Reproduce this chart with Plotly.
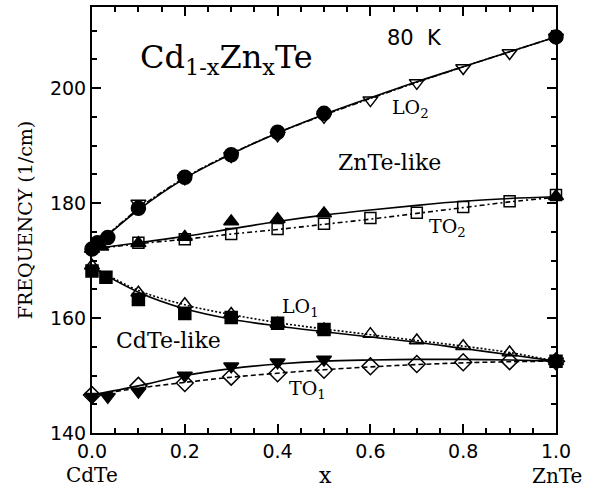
import plotly.graph_objects as go

# ---------------- data ----------------
x_fit = [0.0, 0.1, 0.2, 0.3, 0.4, 0.5, 0.6, 0.7, 0.8, 0.9, 1.0]

# LO2 branch (ZnTe-like)
lo2_fill_x = [0.0, 0.012, 0.034, 0.1, 0.2, 0.3, 0.4, 0.5, 1.0]
lo2_fill_y = [172.0, 173.1, 174.0, 179.1, 184.5, 188.4, 192.3, 195.6, 208.9]
lo2_open_x = [0.1, 0.2, 0.3, 0.4, 0.5, 0.6, 0.7, 0.8, 0.9, 1.0]
lo2_open_y = [179.9, 184.3, 188.2, 191.8, 195.0, 197.9, 200.9, 203.5, 206.1, 208.8]
lo2_fit_solid = [172.0, 178.8, 184.3, 188.5, 192.2, 195.4, 198.3, 201.1, 203.7, 206.3, 208.9]
lo2_fit_dash = [172.0, 179.0, 184.4, 188.6, 192.2, 195.3, 198.2, 201.0, 203.7, 206.3, 208.9]

# TO2 branch
to2_fill_x = [0.0, 0.02, 0.1, 0.2, 0.3, 0.4, 0.5, 1.0]
to2_fill_y = [172.0, 172.4, 173.0, 174.1, 176.8, 177.2, 178.2, 181.2]
to2_open_x = [0.1, 0.2, 0.3, 0.4, 0.5, 0.6, 0.7, 0.8, 0.9, 1.0]
to2_open_y = [173.1, 173.7, 174.6, 175.5, 176.4, 177.4, 178.3, 179.3, 180.3, 181.4]
to2_fit_solid = [172.0, 173.1, 174.2, 175.5, 176.8, 177.9, 178.8, 179.6, 180.3, 180.8, 181.1]
to2_fit_dash = [172.0, 172.9, 173.7, 174.6, 175.4, 176.3, 177.2, 178.2, 179.2, 180.2, 181.0]

# LO1 branch (CdTe-like)
lo1_fill_x = [0.0, 0.03, 0.1, 0.2, 0.3, 0.4, 0.5, 1.0]
lo1_fill_y = [168.2, 167.1, 163.2, 160.8, 160.1, 159.1, 158.0, 152.5]
lo1_open_x = [0.0, 0.1, 0.2, 0.3, 0.4, 0.5, 0.6, 0.7, 0.8, 0.9, 1.0]
lo1_open_y = [169.1, 164.4, 162.4, 160.7, 159.0, 158.0, 157.2, 156.1, 155.1, 154.0, 152.5]
lo1_fit_solid = [168.8, 164.5, 161.6, 159.8, 158.6, 157.6, 156.7, 155.8, 154.7, 153.6, 152.5]
lo1_fit_dash = [169.0, 164.8, 162.3, 160.6, 159.2, 158.1, 157.1, 156.1, 155.1, 154.0, 152.5]

# TO1 branch
to1_fill_x = [0.0, 0.034, 0.1, 0.2, 0.3, 0.4, 0.5, 1.0]
to1_fill_y = [146.3, 146.3, 147.2, 150.0, 151.6, 152.3, 152.8, 152.5]
to1_open_x = [0.0, 0.1, 0.2, 0.3, 0.4, 0.5, 0.6, 0.7, 0.8, 0.9, 1.0]
to1_open_y = [146.6, 148.2, 148.7, 149.8, 150.4, 151.0, 151.6, 152.0, 152.3, 152.5, 152.5]
to1_fit_solid = [146.6, 148.2, 150.0, 151.2, 152.0, 152.5, 152.7, 152.8, 152.8, 152.7, 152.5]
to1_fit_dash = [146.6, 147.8, 148.8, 149.7, 150.4, 151.0, 151.5, 151.9, 152.2, 152.4, 152.5]

x_ticks = [0.0, 0.2, 0.4, 0.6, 0.8, 1.0]
x_tick_text = ["0.0", "0.2", "0.4", "0.6", "0.8", "1.0"]
y_ticks = [140, 160, 180, 200]
y_tick_text = ["140", "160", "180", "200"]

# ---------------- figure ----------------
SERIF = "DejaVu Serif"
SANS = "DejaVu Sans"
BLK = "black"

fig = go.Figure()

def curve(y, dash):
    fig.add_trace(go.Scatter(x=x_fit, y=y, mode="lines",
                             line=dict(color=BLK, width=1.6, dash=dash, shape="spline"),
                             showlegend=False, hoverinfo="skip"))

def marks(x, y, symbol, size):
    fig.add_trace(go.Scatter(x=x, y=y, mode="markers",
                             marker=dict(symbol=symbol, size=size, color=BLK,
                                         line=dict(color=BLK, width=1.5)),
                             showlegend=False, cliponaxis=False))

curve(lo2_fit_solid, "solid")
curve(lo2_fit_dash, "6px,2px,2px,2px")
curve(to2_fit_solid, "solid")
curve(to2_fit_dash, "5px,3px,2px,3px")
curve(lo1_fit_solid, "solid")
curve(lo1_fit_dash, "2px,2px")
curve(to1_fit_solid, "solid")
curve(to1_fit_dash, "5px,3px")

marks(lo2_open_x, lo2_open_y, "triangle-down-open", 13)
marks(lo2_fill_x, lo2_fill_y, "circle", 14)
marks(to2_open_x, to2_open_y, "square-open", 11)
marks(to2_fill_x, to2_fill_y, "triangle-up", 13)
marks(lo1_open_x, lo1_open_y, "triangle-up-open", 13)
marks(lo1_fill_x, lo1_fill_y, "square", 12)
marks(to1_open_x, to1_open_y, "diamond-open", 13)
marks(to1_fill_x, to1_fill_y, "triangle-down", 13)

ann = []
def txt(text, x, y, size, font=SERIF, xanchor="center", yanchor="middle", xref="x", yref="y"):
    ann.append(dict(text=text, x=x, y=y, xref=xref, yref=yref, showarrow=False,
                    xanchor=xanchor, yanchor=yanchor,
                    font=dict(family=font, size=size, color=BLK)))

txt("Cd<sub>1-x</sub>Zn<sub>x</sub>Te", 0.099, 205.0, 32, xanchor="left")
txt("80\u00a0\u00a0K", 0.696, 208.7, 21, font=SANS)
txt("LO<sub>2</sub>", 0.642, 196.5, 19, xanchor="left")
txt("ZnTe-like", 0.642, 187.1, 22)
txt("TO<sub>2</sub>", 0.722, 175.8, 19, xanchor="left")
txt("LO<sub>1</sub>", 0.405, 161.9, 19, xanchor="left")
txt("CdTe-like", 0.164, 156.1, 22)
txt("TO<sub>1</sub>", 0.420, 147.6, 19, xanchor="left")
txt("CdTe", 0.0, -0.098, 20, xref="paper", yref="paper")
txt("x", 0.504, -0.100, 22, xref="paper", yref="paper")
txt("ZnTe", 1.002, -0.100, 20, xref="paper", yref="paper")

axis_common = dict(showgrid=False, zeroline=False, showline=True, linecolor=BLK,
                   linewidth=2, mirror="ticks", ticks="inside", tickcolor=BLK,
                   tickwidth=1.5, ticklen=9)

fig.update_layout(
    width=592, height=489,
    margin=dict(l=92, r=36, t=5, b=56),
    paper_bgcolor="white", plot_bgcolor="white",
    annotations=ann,
    xaxis=dict(range=[0, 1], tickvals=x_ticks, ticktext=x_tick_text,
               tickfont=dict(family=SANS, size=19, color=BLK),
               minor=dict(dtick=0.05, ticks="inside", ticklen=5, tickcolor=BLK, tickwidth=1.5),
               **axis_common),
    yaxis=dict(range=[140, 214.1], tickvals=y_ticks, ticktext=y_tick_text,
               tickfont=dict(family=SANS, size=19, color=BLK),
               minor=dict(dtick=5, ticks="inside", ticklen=5, tickcolor=BLK, tickwidth=1.5),
               title=dict(text="FREQUENCY (1/cm)", font=dict(family=SERIF, size=19, color=BLK),
                          standoff=12),
               **axis_common),
)

fig.write_html("out.html")
